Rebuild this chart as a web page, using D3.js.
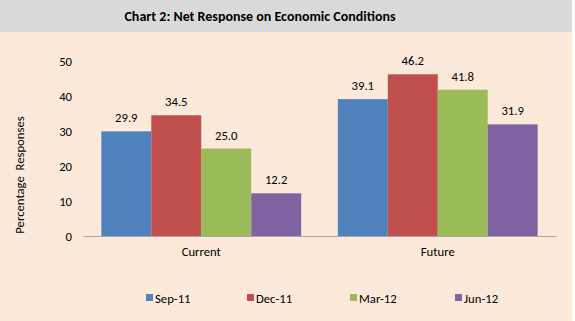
<!DOCTYPE html>
<html><head><meta charset="utf-8">
<script src="https://cdn.jsdelivr.net/npm/d3@7"></script>
<style>body{margin:0;background:#fff}svg{display:block}text{font-family:Carlito,Calibri,"Open Sans",sans-serif}</style>
</head><body>
<script>
const categories = ["Current", "Future"];
const seriesNames = ["Sep-11", "Dec-11", "Mar-12", "Jun-12"];
const sep11 = [29.9, 39.1];
const dec11 = [34.5, 46.2];
const mar12 = [25.0, 41.8];
const jun12 = [12.2, 31.9];
const yTicks = [0, 10, 20, 30, 40, 50];
const colors = ["#4F81BD", "#C0504D", "#9BBB59", "#8064A2"];
const seriesValues = [sep11, dec11, mar12, jun12];

const W = 575, H = 321;
const FS = 12.7;
const svg = d3.select("body").append("svg").attr("width", W).attr("height", H);
svg.append("rect").attr("x", 0).attr("y", 0).attr("width", 572).attr("height", H).attr("fill", "#FDE9D9");
svg.append("rect").attr("x", 0).attr("y", 0).attr("width", 572).attr("height", 32).attr("fill", "#D9D9D9");
svg.append("text").attr("x", 260).attr("y", 21).attr("text-anchor", "middle")
  .attr("font-size", 14).attr("font-weight", "bold").attr("fill", "#000")
  .text("Chart 2: Net Response on Economic Conditions");

const y = d3.scaleLinear().domain([0, 50]).range([236, 61]);
const x0 = d3.scaleBand().domain(categories).range([83, 556]).paddingInner(0.155).paddingOuter(0.0775);
const x1 = d3.scaleBand().domain(seriesNames).range([0, x0.bandwidth()]);

// y tick labels
const yAxis = d3.axisLeft(y).tickValues(yTicks).tickSize(0).tickPadding(0);
const gy = svg.append("g").attr("transform", "translate(72,0)").call(yAxis);
gy.select(".domain").remove();
gy.selectAll("text").attr("font-size", FS).attr("fill", "#000").attr("font-family", "Carlito,Calibri,'Open Sans',sans-serif");

// bars
seriesNames.forEach((s, i) => {
  const g = svg.append("g");
  categories.forEach((c, j) => {
    const v = seriesValues[i][j];
    g.append("rect").attr("x", x0(c) + x1(s)).attr("y", y(v))
      .attr("width", x1.bandwidth()).attr("height", y(0) - y(v)).attr("fill", colors[i]);
    g.append("text").attr("x", x0(c) + x1(s) + x1.bandwidth() / 2).attr("y", y(v) - 9)
      .attr("text-anchor", "middle").attr("font-size", FS).attr("fill", "#000").text(v.toFixed(1));
  });
});

// x axis
const xAxis = d3.axisBottom(x0).tickSize(0).tickPadding(11);
const gx = svg.append("g").attr("transform", "translate(0,236)").call(xAxis);
gx.select(".domain").attr("stroke", "#A6A6A6").attr("stroke-width", 1.2);
gx.selectAll("text").attr("font-size", FS).attr("fill", "#000").attr("font-family", "Carlito,Calibri,'Open Sans',sans-serif");

// y title
svg.append("text").attr("transform", "translate(24,175) rotate(-90)").attr("text-anchor", "middle")
  .attr("font-size", FS).attr("fill", "#000").attr("xml:space", "preserve").text("Percentage  Responses");

// legend
const legX = [146, 247, 350, 455];
seriesNames.forEach((s, i) => {
  svg.append("rect").attr("x", legX[i]).attr("y", 294).attr("width", 7).attr("height", 7).attr("fill", colors[i]);
  svg.append("text").attr("x", legX[i] + 9).attr("y", 302.5).attr("font-size", FS).attr("fill", "#000").text(s);
});
</script>
</body></html>
